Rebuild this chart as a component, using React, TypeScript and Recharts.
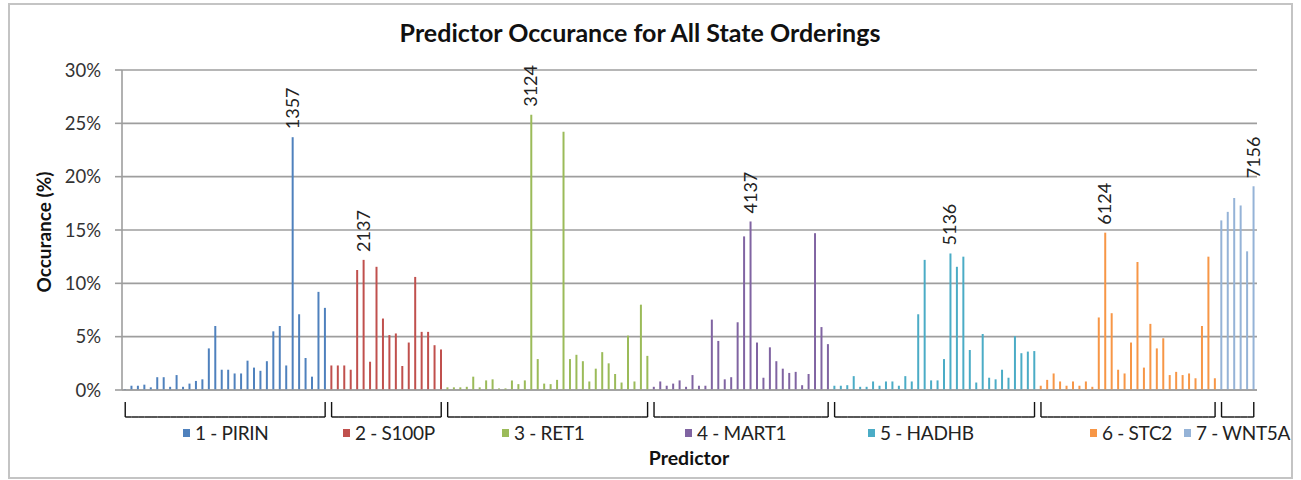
import { BarChart, Bar, XAxis, YAxis, CartesianGrid, Cell, LabelList, Legend } from 'recharts';

const groupNames = ['1 - PIRIN', '2 - S100P', '3 - RET1', '4 - MART1', '5 - HADHB', '6 - STC2', '7 - WNT5A'];
const groupColors = ['#4F81BD', '#C0504D', '#9BBB59', '#8064A2', '#4BACC6', '#F79646', '#95B3D7'];
const peakLabels = ['1357', '2137', '3124', '4137', '5136', '6124', '7156'];
const yTicks = [0, 5, 10, 15, 20, 25, 30];

// occurance (%) per state ordering
const pirin = [0.1, 0.4, 0.4, 0.5, 0.25, 1.2, 1.2, 0.3, 1.4, 0.3, 0.6, 0.85, 1.0, 3.9, 6.0, 1.9, 1.9, 1.55, 1.55, 2.75, 2.1, 1.8, 2.7, 5.5, 6.0, 2.3, 23.7, 7.1, 3.0, 1.25, 9.2, 7.7];
const s100p = [2.3, 2.3, 2.3, 1.9, 11.25, 12.2, 2.65, 11.55, 6.7, 5.15, 5.3, 2.25, 4.45, 10.6, 5.45, 5.45, 4.2, 3.8];
const ret1 = [0.25, 0.25, 0.25, 0.3, 1.25, 0.25, 0.9, 1.0, 0.15, 0.15, 0.9, 0.55, 0.9, 25.8, 2.9, 0.6, 0.55, 0.95, 24.2, 2.9, 3.3, 2.7, 0.8, 2.0, 3.55, 2.5, 1.5, 0.7, 5.1, 0.8, 8.0, 3.2];
const mart1 = [0.3, 0.8, 0.4, 0.6, 0.9, 0.3, 1.4, 0.4, 0.4, 6.6, 4.6, 1.0, 1.2, 6.35, 14.4, 15.8, 4.45, 1.15, 4.0, 2.7, 2.0, 1.6, 1.7, 0.45, 1.5, 14.7, 5.9, 4.3];
const hadhb = [0.4, 0.4, 0.45, 1.3, 0.3, 0.3, 0.8, 0.4, 0.8, 0.8, 0.4, 1.3, 0.8, 7.1, 12.2, 0.9, 0.9, 2.9, 12.8, 11.55, 12.5, 3.75, 0.7, 5.25, 1.15, 1.0, 1.9, 1.15, 5.05, 3.45, 3.6, 3.65];
const stc2 = [0.4, 0.95, 1.55, 0.8, 0.4, 0.8, 0.4, 0.8, 0.3, 6.8, 14.75, 7.2, 1.9, 1.55, 4.45, 12.0, 2.1, 6.2, 3.9, 4.85, 1.4, 1.7, 1.4, 1.55, 1.1, 6.0, 12.5, 1.1];
const wnt5a = [15.9, 16.7, 18.0, 17.3, 13.0, 19.1];

const groups = [pirin, s100p, ret1, mart1, hadhb, stc2, wnt5a];

const rows = groups.flatMap((vals, g) => {
  const max = Math.max(...vals);
  return vals.map((v, i) => ({
    id: `${g}-${i}`,
    value: v,
    group: g,
    first: i === 0,
    last: i === vals.length - 1,
    label: v === max ? peakLabels[g] : '',
  }));
});

const W = 1301;
const H = 480;
const margin = { top: 70, right: 44, bottom: 60, left: 0 };
const Y_W = 122;
const PITCH = (W - margin.right - Y_W) / rows.length;
const FONT = 'Lato, "Noto Sans", sans-serif';
const GRID = '#9e9e9e';

// legend marker left edges, as placed in the original
const legendX = [183, 343, 502, 685, 868, 1090, 1184];

function BracketTick(props: any) {
  const { x, y, index } = props;
  const r = rows[index];
  if (!r) return null;
  const top = y + 4;
  const bot = y + 19;
  return (
    <g stroke="#111" strokeWidth={1.4}>
      {!r.last && <line x1={x} x2={x + PITCH} y1={bot} y2={bot} />}
      {r.first && <line x1={x} x2={x} y1={top} y2={bot} />}
      {r.last && <line x1={x} x2={x} y1={top} y2={bot} />}
    </g>
  );
}

function PeakLabel(props: any) {
  const { x, y, width, value } = props;
  if (!value) return null;
  const cx = x + width / 2 + 6;
  const cy = y - 8;
  return (
    <text x={cx} y={cy} transform={`rotate(-90 ${cx} ${cy})`} fontSize={18} fill="#222" fontFamily={FONT}>
      {value}
    </text>
  );
}

function LegendRow() {
  return (
    <div style={{ position: 'relative', width: W, height: 26 }}>
      {groupNames.map((n, i) => (
        <div
          key={n}
          style={{ position: 'absolute', left: legendX[i], top: 0, display: 'flex', alignItems: 'center', fontSize: 19, color: '#222', fontFamily: FONT, whiteSpace: 'nowrap', letterSpacing: -0.3 }}
        >
          <span style={{ display: 'inline-block', width: 7, height: 8, background: groupColors[i], marginRight: 5 }} />
          {n}
        </div>
      ))}
    </div>
  );
}

export default function App() {
  return (
    <div style={{ position: 'absolute', left: 0, top: 0, width: W, height: H, background: '#fff', fontFamily: FONT }}>
      <div style={{ position: 'absolute', left: 8, top: 3, width: 1285, height: 476, border: '2px solid #c4c4c4', boxSizing: 'border-box' }} />
      <BarChart width={W} height={H} data={rows} margin={margin} barCategoryGap={0}>
        <CartesianGrid vertical={false} stroke={GRID} strokeWidth={1.6} />
        <XAxis
          dataKey="id"
          interval={0}
          height={30}
          tickLine={false}
          axisLine={{ stroke: GRID, strokeWidth: 1.6 }}
          tick={<BracketTick />}
        />
        <YAxis
          width={Y_W}
          domain={[0, 30]}
          ticks={yTicks}
          tickFormatter={(v) => `${v}%`}
          tickSize={7}
          tickMargin={14}
          tickLine={{ stroke: GRID, strokeWidth: 1.6 }}
          axisLine={{ stroke: GRID, strokeWidth: 1.6 }}
          tick={{ fontSize: 18.5, fill: '#333', fontFamily: FONT }}
        />
        <Legend
          layout="horizontal"
          verticalAlign="middle"
          align="center"
          wrapperStyle={{ left: 0, top: 421, width: W, height: 26 }}
          content={() => <LegendRow />}
        />
        <Bar dataKey="value" barSize={2} isAnimationActive={false}>
          {rows.map((r) => (
            <Cell key={r.id} fill={groupColors[r.group]} />
          ))}
          <LabelList dataKey="label" content={<PeakLabel />} />
        </Bar>
      </BarChart>
      <svg width={W} height={H} style={{ position: 'absolute', left: 0, top: 0, pointerEvents: 'none' }}>
        <text x={640} y={42} textAnchor="middle" fontSize={25} fontWeight="bold" fill="#111" fontFamily={FONT}>
          Predictor Occurance for All State Orderings
        </text>
        <text x={51} y={232} textAnchor="middle" fontSize={19} fontWeight="bold" fill="#111" fontFamily={FONT} transform="rotate(-90 51 232)">
          Occurance (%)
        </text>
        <text x={689} y={465} textAnchor="middle" fontSize={19.5} fontWeight="bold" fill="#111" fontFamily={FONT}>
          Predictor
        </text>
      </svg>
    </div>
  );
}
